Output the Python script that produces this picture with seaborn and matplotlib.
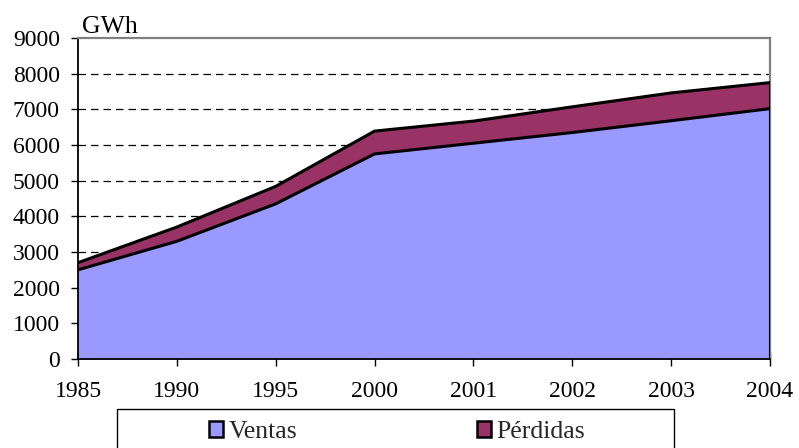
import matplotlib
matplotlib.use("Agg")
import matplotlib.pyplot as plt
import seaborn as sns
import numpy as np
import pandas as pd
from matplotlib.patches import Rectangle, Patch

years = ["1985", "1990", "1995", "2000", "2001", "2002", "2003", "2004"]
ventas = [2500, 3300, 4350, 5750, 6050, 6350, 6680, 7020]
perdidas = [200, 400, 490, 640, 620, 720, 780, 730]
yticks = [0, 1000, 2000, 3000, 4000, 5000, 6000, 7000, 8000, 9000]

sns.set_theme(style="white")
plt.rcParams['font.family'] = ['Liberation Serif', 'DejaVu Serif']

c_ventas = "#9999FF"
c_perd = "#993366"

x = np.arange(len(years))
total = np.array(ventas) + np.array(perdidas)
df = pd.DataFrame({"x": np.concatenate([x, x]),
                   "y": np.concatenate([ventas, total]),
                   "serie": ["Ventas"] * len(x) + ["Total"] * len(x)})

fig = plt.figure(figsize=(7.99, 4.48), dpi=100)
ax = fig.add_axes([78/799, 1-359/448, (770-78)/799, (359-38)/448])

ax.fill_between(x, 0, ventas, color=c_ventas, linewidth=0, zorder=2)
ax.fill_between(x, ventas, total, color=c_perd, linewidth=0, zorder=2)
sns.lineplot(data=df, x="x", y="y", hue="serie", palette={"Ventas": "black", "Total": "black"},
             linewidth=2.2, legend=False, ax=ax, zorder=3)
ax.plot([x[-1], x[-1]], [0, total[-1]], color="black", linewidth=2.2, zorder=3)

ax.set_xlim(0, len(years) - 1)
ax.set_ylim(0, 9000)
ax.set_yticks(yticks)
ax.set_yticklabels([str(v) for v in yticks])
ax.set_xticks(x)
ax.set_xticklabels(years)
ax.set_xlabel("")
ax.set_ylabel("")

for v in yticks[1:-1]:
    ax.axhline(v, color="black", linestyle=(0, (6, 4)), linewidth=0.9, zorder=1)

for s in ["left", "bottom"]:
    ax.spines[s].set_color("black")
    ax.spines[s].set_linewidth(1.3)
for s in ["top", "right"]:
    ax.spines[s].set_color("#808080")
    ax.spines[s].set_linewidth(1.6)
ax.spines["bottom"].set_zorder(4)

ax.tick_params(axis="y", direction="out", length=5, width=1, color="black",
               labelsize=17, pad=8, left=True)
ax.tick_params(axis="x", direction="inout", length=10, width=1, color="black",
               labelsize=17, pad=11, bottom=True)
for lab in ax.get_xticklabels() + ax.get_yticklabels():
    lab.set_color("black")

fig.text(82/799, 1-27/448, "GWh", fontsize=18.5, color="black", va="center", ha="left")

fig.patches.append(Rectangle((117/799, -0.05), (674-117)/799, 0.05 + 1-409/448,
                             transform=fig.transFigure, facecolor="white",
                             edgecolor="black", linewidth=1.0, figure=fig))
handles = [Patch(facecolor=c_ventas, edgecolor="black", linewidth=1.8, label="Ventas"),
           Patch(facecolor=c_perd, edgecolor="black", linewidth=1.8, label="Pérdidas")]
fig.legend(handles=handles, loc="center left", bbox_to_anchor=(209/799, 1-432/448),
           ncol=2, frameon=False, fontsize=18.5, handlelength=0.55, handleheight=0.55,
           handletextpad=0.2, columnspacing=7.0, borderpad=0, borderaxespad=0)

fig.savefig("out.png", dpi=100)
